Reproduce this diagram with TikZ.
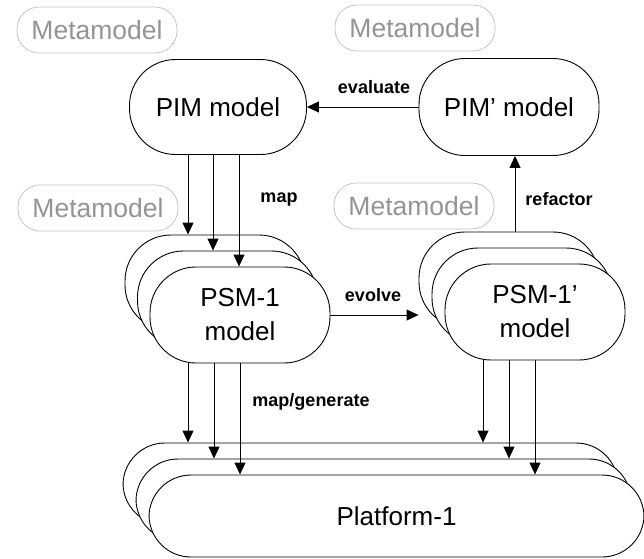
\documentclass[tikz,border=0pt]{standalone}
\usepackage{fontspec}
\setmainfont{Liberation Sans}
\usetikzlibrary{arrows.meta,positioning}
\tikzset{
  model/.style={
      rectangle,
      draw,
      fill=white,
      line width=0.9pt,
      rounded corners=46pt,
      minimum width=180pt,
      minimum height=96pt,
      align=center,
      font=\fontsize{26}{34}\selectfont
  },
  meta/.style={
      rectangle,
      draw=black!25,
      line width=0.7pt,
      rounded corners=22pt,
      minimum width=160pt,
      minimum height=46pt,
      text=black!42,
      font=\fontsize{26.5}{28}\selectfont
  },
  platform/.style={model,minimum width=495pt,minimum height=82pt,rounded corners=42pt},
  act/.style={font=\bfseries\fontsize{18}{20}\selectfont},
  flow/.style={-{Triangle[length=12pt,width=11pt]},line width=1pt}
}

\begin{document}
\begin{tikzpicture}[x=1pt,y=-1pt]
    \useasboundingbox (0,0) rectangle (644,558);
    % metamodels
    \node[meta] (metaA) at (97,30) {Metamodel};
    \node[meta] (metaB) at (415,28) {Metamodel};
    \node[meta] (metaC) at (98,208) {Metamodel};
    \node[meta] (metaD) at (414,206) {Metamodel};
    % models
    \node[model,minimum width=177pt,minimum height=95pt] (pim) at (218,107) {PIM model};
    \node[model,minimum height=97pt] (pimp) at (509,107) {PIM\textquoteright{} model};
    \node[model] (psmA) at (215,283) {};
    \node[model] (psmB) at (227.5,299) {};
    \node[model] (psmC) at (240,315) {PSM-1\\model};
    \node[model] (psmpA) at (509,280) {};
    \node[model] (psmpB) at (522,296) {};
    \node[model] (psmpC) at (535,312) {PSM-1\textquoteright\\model};
    \node[platform] (platA) at (370.5,484) {};
    \node[platform] (platB) at (383.5,500) {};
    \node[platform] (platC) at (396.5,516) {Platform-1};
    % labels
    \node[act] (evaluate) at (374,87) {evaluate};
    \node[act] (map) at (279,200) {map};
    \node[act] (evolve) at (373,295) {evolve};
    \node[act] (refactor) at (559,199) {refactor};
    \node[act] (mapgen) at (311,402) {map/generate};
    % connectors
    \draw[flow] (pimp.west) -- (pim.east);
    \draw[flow] ([xshift=-30pt]pim.south) -- ([xshift=-30pt]pim.south |- psmA.north);
    \draw[flow] ([xshift=-5pt]pim.south) -- ([xshift=-5pt]pim.south |- psmB.north);
    \draw[flow] ([xshift=21pt]pim.south) -- ([xshift=21pt]pim.south |- psmC.north);
    \draw[flow] (psmC.east) -- (psmC.east -| psmpA.west);
    \draw[flow] ([xshift=6pt]psmpA.north) -- ([xshift=6pt]pimp.south);
    \draw[flow] ([xshift=-52pt]psmC.south) -- ([xshift=-52pt]psmC.south |- platA.north);
    \draw[flow] ([xshift=-26pt]psmC.south) -- ([xshift=-26pt]psmC.south |- platB.north);
    \draw[flow] (psmC.south) -- (psmC.south |- platC.north);
    \draw[flow] ([xshift=-52pt]psmpC.south) -- ([xshift=-52pt]psmpC.south |- platA.north);
    \draw[flow] ([xshift=-26pt]psmpC.south) -- ([xshift=-26pt]psmpC.south |- platB.north);
    \draw[flow] (psmpC.south) -- (psmpC.south |- platC.north);
\end{tikzpicture}
\end{document}
